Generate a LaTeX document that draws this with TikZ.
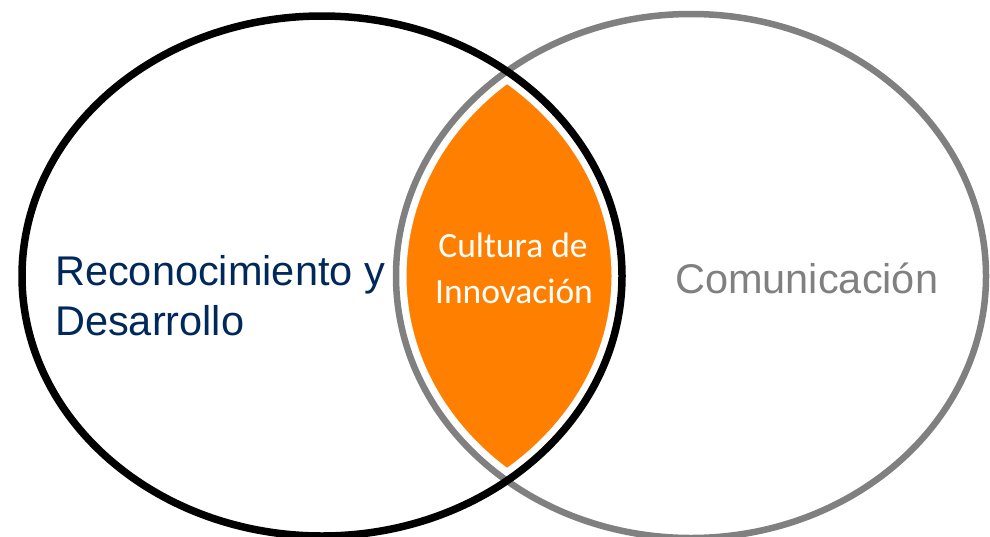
\documentclass[tikz,border=0pt]{standalone}
\usepackage{fontspec}
\setmainfont{Liberation Sans}
\newfontfamily\calibfont{Carlito}
\definecolor{navytext}{RGB}{0,40,90}
\definecolor{graytext}{RGB}{128,128,128}
\definecolor{lensorange}{RGB}{255,128,0}
\tikzset{
  leftring/.style={draw=black, line width=7.5pt},
  rightring/.style={draw=graytext, line width=6.5pt},
  gapring/.style={draw=white, line width=21pt},
  bigtext/.style={font=\fontsize{41.5}{50}\selectfont, inner sep=0pt},
  lenstext/.style={font=\calibfont\fontsize{35.5}{46}\selectfont, text=white, inner sep=0pt}
}
\begin{document}
\begin{tikzpicture}[x=1pt,y=-1pt]
\useasboundingbox (0,0) rectangle (990,536);
\fill[white] (0,0) rectangle (990,536);
\coordinate (cL) at (322,276);
\coordinate (cR) at (691,276);
% orange lens
\begin{scope}
  \clip (cL) ellipse [x radius=300, y radius=260];
  \fill[lensorange] (cR) ellipse [x radius=295, y radius=262];
\end{scope}
% white gaps
\path[gapring] (cR) ellipse [x radius=295, y radius=262];
\path[gapring] (cL) ellipse [x radius=300, y radius=260];
% rings
\path[rightring] (cR) ellipse [x radius=295, y radius=262];
\path[leftring] (cL) ellipse [x radius=300, y radius=260];
% texts
\node[bigtext, text=navytext, align=left, anchor=base west] (rd) at (55,335) {Reconocimiento y\\Desarrollo};
\node[bigtext, text=graytext, anchor=base west] (com) at (675,293) {Comunicación};
\node[lenstext, anchor=base] (cul1) at (513,257) {Cultura de};
\node[lenstext, anchor=base] (cul2) at (514,303) {Innovación};
\end{tikzpicture}
\end{document}
